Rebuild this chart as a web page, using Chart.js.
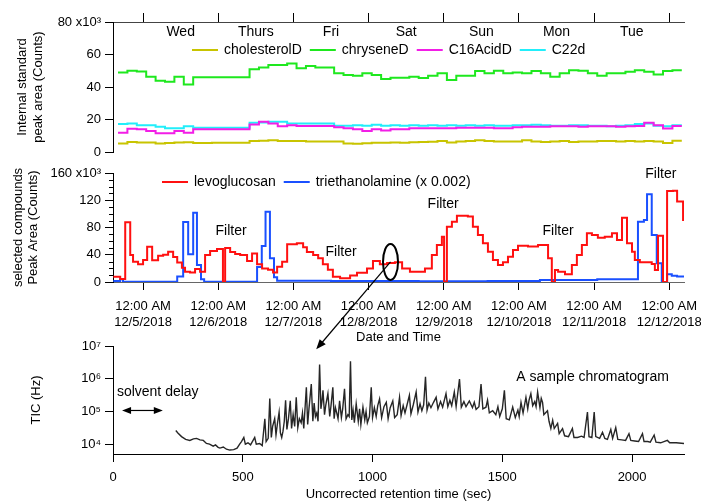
<!DOCTYPE html>
<html lang="en">
<head>
<meta charset="UTF-8">
<title>Internal standards, selected compounds and a sample chromatogram</title>
<script src="https://cdn.jsdelivr.net/npm/chart.js"></script>
<style>
  body { margin: 0; background: #fff; }
  #wrap { position: relative; width: 701px; height: 504px; overflow: hidden; }
  canvas { position: absolute; left: 0; }
  #top { top: 0; }
  #mid { top: 160px; }
  #tic { top: 330px; }
  #marks { top: 0; pointer-events: none; }
</style>
</head>
<body>
<div id="wrap">
  <canvas id="top" width="701" height="160"></canvas>
  <canvas id="mid" width="701" height="185"></canvas>
  <canvas id="tic" width="701" height="174"></canvas>
  <canvas id="marks" width="701" height="504"></canvas>
</div>
<script>
// time is in hours from 12:00 AM 12/5/2018, peak areas in thousands of counts
const timeRange = [-9.6, 172.7];
const dayHours = [0, 24, 48, 72, 96, 120, 144, 168];
const tickDates = ['12/5/2018', '12/6/2018', '12/7/2018', '12/8/2018', '12/9/2018', '12/10/2018', '12/11/2018', '12/12/2018'];
const dayNames = ['Wed', 'Thurs', 'Fri', 'Sat', 'Sun', 'Mon', 'Tue'];
const dayNoons = [12, 36, 60, 84, 108, 132, 156];

// internal standards (3 hour samples)
const stdHours = [-8, -5, -2, 1, 4, 7, 10, 13, 16, 19, 22, 25, 28, 31, 34, 37, 40, 43, 46, 49,
  52, 55, 58, 61, 64, 67, 70, 73, 76, 79, 82, 85, 88, 91, 94, 97, 100, 103, 106, 109,
  112, 115, 118, 121, 124, 127, 130, 133, 136, 139, 142, 145, 148, 151, 154, 157, 160, 163, 166, 169, 172];
const cholesterolD = [5.3, 6.2, 5.8, 5.8, 5.3, 5.5, 5.8, 6.0, 5.5, 5.6,
  5.7, 5.7, 5.7, 5.7, 6.8, 7.0, 7.3, 6.8, 6.8, 6.8,
  6.5, 6.5, 6.5, 6.5, 5.2, 5.1, 5.4, 5.7, 5.7, 5.9,
  5.7, 6.0, 6.2, 6.3, 6.8, 5.8, 6.5, 6.8, 7.2, 6.8,
  6.5, 6.5, 6.5, 7.2, 6.5, 6.2, 6.5, 6.8, 6.2, 6.5,
  6.5, 6.8, 6.8, 6.5, 6.8, 6.5, 6.8, 6.5, 5.6, 7.0, 7.0];
const chryseneD = [49, 50, 49.5, 46.3, 43.9, 43.3, 46.3, 41.5, 46, 46,
  46, 46, 46, 46, 51, 52, 53.5, 53.5, 54.5, 51.5,
  53, 52, 52, 48.4, 47.4, 47, 48.4, 47.4, 44.9, 45.7,
  45.7, 46.3, 45.5, 47, 48.4, 44.3, 47, 47, 49.8, 48.4,
  50, 48.4, 49, 48.4, 49.8, 48.4, 46.3, 48.4, 50.3, 50,
  48.4, 47, 48.4, 48.4, 49.4, 50.3, 49.4, 47.7, 49.8, 50.3, 50.3];
const c16AcidD = [11.9, 14.3, 14, 12.9, 11.5, 11.5, 12.9, 11.8, 14, 14,
  14, 14, 14, 14, 17, 18.6, 17.5, 15.8, 16.5, 16,
  16, 16, 16, 15.2, 14.6, 14, 12.9, 14, 13.3, 14,
  14, 14.6, 14.6, 14.6, 14.6, 14.6, 15, 15, 15, 15,
  14.6, 14.6, 15.2, 15.5, 15.5, 15.5, 15.8, 15.8, 15.8, 15.5,
  15.8, 15.8, 15.8, 15.5, 15.8, 16, 18, 16.5, 14.5, 16, 16];
const c22d = [17.2, 17.5, 16.5, 16.5, 15.5, 14.6, 14.6, 15.8, 15, 15,
  15, 15, 15, 15, 18, 18.2, 18.6, 18.6, 17.5, 17.5,
  17.5, 17.5, 17.5, 16.1, 16.1, 16.5, 16.1, 16.8, 16.1, 16.5,
  16.1, 16.5, 16.1, 16.5, 16.1, 16.5, 16.1, 16.5, 16.1, 16.5,
  16.1, 16.1, 16.5, 16.5, 16.8, 16.5, 16.1, 16.1, 16.5, 16.5,
  16.1, 16.1, 15.8, 16.1, 16.5, 17.2, 17.5, 16.1, 15.8, 16.5, 16.5];

// selected compounds (value holds from each time to the next one)
const levoHours = [-9.5, -7.3, -5.7, -4.1, -3.2, -1.6, 0, 1.3, 2.9, 4.8, 6.4, 8, 9.6, 10.9, 12.4, 13.4, 15, 16.6, 18.2, 19.8,
  21.4, 23.6, 25.5, 26.2, 27.8, 29.4, 31, 33.2, 34.8, 36.4, 38, 39.9, 41.5, 42.8, 44.4, 46, 49.1, 51.1, 52.3, 54.3,
  55.9, 57.4, 59, 60.6, 62.9, 66.1, 68.3, 71.5, 73.4, 75.6, 77.9, 80.4, 82.7, 85.2, 90, 92.2, 93.8, 95.4, 96.1, 97,
  98.6, 100.2, 103.7, 105.3, 106.9, 108.5, 110.1, 111.7, 113.3, 114.9, 116.5, 118.1, 119.7, 122.9, 126.1, 129.3, 130.5, 131.5, 132.5, 134.7,
  136.9, 138.5, 140.1, 141.7, 143.3, 145.2, 147.4, 149.7, 151.3, 152.9, 154.5, 156.1, 157, 158.6, 162.4, 163.4, 164.4, 166, 167.3, 169.2,
  170.5, 172.4, 173];
const levoglucosan = [7.8, 4.4, 87.7, 39.6, 29.8, 26, 32.3, 51.9, 32, 38.6, 40, 44.5, 36.7, 28.8, 21, 15.2, 14, 19, 15, 39.6,
  45.5, 48.4, 0, 50, 44, 41, 39.6, 30.8, 42, 26, 20, 18, 14, 22.5, 29.8, 55.3, 56.8, 51, 44, 39.6,
  34.7, 26, 18, 7.8, 5.4, 9.5, 13.7, 20, 30.8, 26, 28, 28.9, 20, 15.2, 20, 39.6, 54.3, 66.5, 0, 81.2,
  88.5, 97.4, 96, 81, 69, 56.8, 44.5, 32.3, 25, 28.9, 37, 47, 53.3, 52, 54.3, 34.7, 0, 17.6, 15, 11.3,
  25, 39.6, 54.3, 71.5, 69, 65, 66.5, 71.5, 61.7, 94.4, 56.8, 44.5, 32.3, 28.9, 26.5, 17.6, 68, 0, 133.6, 134,
  118, 91, 91];
const teaHours = [-9.5, -7.3, -6.4, 10.9, 12.8, 14.4, 16, 17.2, 18.5, 19.5, 36.4, 37.9, 39.1, 40.5, 41.8, 42.8,
  60, 88, 110, 126.7, 145, 155.4, 158, 159.9, 160.9, 162.4, 164, 165.6, 167.3, 168.8, 170.5, 172.7];
const triethanolamine = [1.5, 4, 0.5, 8, 88, 40.7, 101.8, 25, 4, 0.5, 22, 53, 103, 35, 7, 2,
  1.5, 1, 1.5, 3, 4, 4, 88.5, 91, 128.8, 69, 27.5, 0, 11.3, 9, 8, 7.5];

// sample chromatogram: retention time (sec) and TIC (Hz)
const ticSeconds = [
  242, 250, 264, 280, 296, 310, 322, 335, 348, 360, 372, 386, 395, 405, 412, 425, 437, 450, 465, 478,
  488, 495, 504, 510, 520, 530, 546, 552, 565, 575, 585, 590, 598,
  604, 610, 615, 623, 628, 634, 640, 645, 650, 655, 660, 665, 670, 676, 683, 688, 694, 700,
  706, 712, 718, 725, 730, 735, 745, 750, 755, 764, 770, 775, 780, 785, 790, 796, 801,
  805, 809, 815, 820, 828, 835, 840, 847, 852, 857, 862, 867, 873, 880, 885, 892, 898,
  905, 910, 915, 920, 925, 930, 937, 945, 950, 955, 963, 970, 975, 980, 988, 995, 1000,
  1007, 1014, 1020, 1027, 1035, 1044, 1053, 1060, 1068, 1078, 1085, 1095, 1104, 1110,
  1118, 1125, 1133, 1142, 1148, 1157, 1168, 1175, 1183, 1190, 1197, 1204, 1210, 1217, 1225,
  1235, 1245, 1252, 1262, 1270, 1283, 1290, 1298, 1305, 1315, 1322, 1335, 1342,
  1352, 1360, 1373, 1385, 1392, 1399, 1410, 1418, 1425, 1437, 1443, 1450, 1463,
  1475, 1483, 1490, 1500, 1508, 1515, 1527, 1540, 1550, 1560, 1565, 1572, 1580,
  1591, 1598, 1603, 1610, 1617, 1625, 1630, 1636, 1645, 1650, 1655, 1660, 1666, 1674, 1680, 1687,
  1694, 1700, 1713, 1719, 1732, 1740, 1755, 1770, 1776, 1790, 1805, 1815, 1828, 1834, 1845, 1854, 1860, 1875, 1886, 1895,
  1905, 1918, 1925, 1937, 1945, 1960, 1975, 1988, 1995, 2010, 2025, 2040, 2046, 2060, 2070, 2085, 2092, 2110, 2136, 2145, 2170, 2200];
const ticHz = [
  2.6e4, 2.2e4, 1.7e4, 1.4e4, 1.3e4, 1.45e4, 1.5e4, 1.35e4, 1.3e4, 1.05e4, 1.0e4, 8.7e3, 9.5e3, 8.0e3, 7.6e3, 8.2e3, 7.0e3, 6.6e3, 6.8e3, 7.5e3,
  1.0e4, 1.2e4, 1.6e4, 1.0e4, 1.1e4, 9.5e3, 1.6e4, 1.0e4, 1.05e4, 9.0e3, 6.0e4, 1.2e4, 1.5e4,
  2.5e5, 1.6e4, 3.5e4, 6.0e4, 1.9e4, 4.5e4, 9.5e4, 2.2e4, 1.6e4, 2.5e4, 5.0e4, 2.2e5, 2.8e4, 6.0e4, 2.1e5, 3.0e4, 8.0e4, 3.5e4,
  2.7e5, 3.2e4, 6.0e4, 4.5e4, 9.0e4, 3.0e4, 5.5e5, 4.0e4, 1.2e5, 6.9e5, 5.0e4, 1.8e5, 7.0e4, 9.0e4, 5.0e4, 2.7e6, 1.2e5,
  2.0e5, 4.4e5, 8.0e4, 1.6e5, 3.5e5, 7.0e4, 1.5e5, 5.5e5, 6.0e4, 1.3e5, 9.0e4, 6.0e4, 2.1e5, 6.5e4, 1.2e5, 4.9e5, 6.0e4,
  8.0e4, 7.0e4, 3.4e6, 5.5e4, 1.1e5, 4.5e4, 1.7e5, 5.0e4, 1.2e5, 4.0e4, 1.35e5, 5.5e4, 1.0e5, 4.5e4, 7.0e4, 5.5e5, 6.5e4,
  1.3e5, 7.0e4, 1.5e5, 2.4e5, 6.5e4, 1.4e5, 1.9e5, 6.0e4, 1.3e5, 2.1e5, 6.5e4, 8.0e4, 2.7e5, 7.5e4,
  1.5e5, 9.0e4, 1.6e5, 3.1e5, 8.5e4, 1.6e5, 3.9e5, 9.5e4, 1.7e5, 1.05e5, 1.6e5, 1.15e6, 1.1e5, 1.8e5, 1.3e5,
  1.9e5, 2.7e5, 1.2e5, 2.0e5, 1.35e5, 3.5e5, 1.4e5, 2.2e5, 1.5e5, 3.9e5, 1.4e5, 9.8e5, 1.35e5,
  2.0e5, 1.4e5, 2.1e5, 1.3e5, 1.9e5, 1.15e5, 1.4e5, 6.9e5, 1.2e5, 1.35e5, 2.2e5, 9.0e4, 1.05e5,
  8.0e4, 1.4e5, 7.0e4, 1.2e5, 4.4e5, 6.0e4, 5.5e4, 1.35e5, 6.5e4, 1.1e5, 7.0e4, 1.9e5, 9.0e4,
  2.7e5, 1.2e5, 2.2e5, 3.5e5, 1.5e5, 2.0e5, 1.4e5, 3.9e5, 1.3e5, 2.5e5, 1.9e5, 8.0e4, 9.0e4, 1.05e5, 5.0e4, 3.0e4,
  5.4e4, 3.0e4, 4.3e4, 2.1e4, 3.0e4, 1.8e4, 1.7e4, 3.0e4, 1.6e4, 1.6e4, 1.75e4, 1.6e4, 9.5e4, 1.7e4, 1.6e4, 9.5e4, 1.7e4, 1.5e4, 2.3e4, 1.5e4,
  1.4e4, 2.8e4, 1.5e4, 3.2e4, 1.4e4, 1.35e4, 1.3e4, 2.1e4, 1.3e4, 1.25e4, 1.2e4, 2.1e4, 1.2e4, 1.2e4, 1.15e4, 1.9e4, 1.15e4, 1.1e4, 1.3e4, 1.1e4, 1.1e4, 1.05e4];
const ticDecades = [1e4, 1e5, 1e6, 1e7];
const ticDecadeLabels = ['10\u2074', '10\u2075', '10\u2076', '10\u2077'];
const secTicks = [0, 500, 1000, 1500, 2000];

Chart.defaults.font.family = "'Liberation Sans', Arial, sans-serif";
Chart.defaults.font.size = 13;
Chart.defaults.color = '#000';
const FAM = Chart.defaults.font.family;

const pairs = (xs, ys) => xs.map((x, i) => ({ x: x, y: ys[i] }));

// axis boxes get a fixed size so the three panels line up
function fixedAxis(size) {
  return s => {
    if (s.isHorizontal()) s.height = size; else s.width = size;
    s.paddingLeft = s.paddingRight = s.paddingTop = s.paddingBottom = 0;
  };
}
const tickMarks = len => ({ drawOnChartArea: false, drawTicks: true, tickLength: len, tickColor: '#000', color: '#000' });

// texts, line legend, minor ticks, ellipse and the double arrow
const panelNotes = {
  id: 'panelNotes',
  afterDatasetsDraw(chart, args, opts) {
    const ctx = chart.ctx, xs = chart.scales.x, ys = chart.scales.y, area = chart.chartArea;
    ctx.save();
    ctx.fillStyle = '#000';
    ctx.strokeStyle = '#000';
    ctx.font = '14px ' + FAM;
    ctx.textBaseline = 'middle';
    (opts.texts || []).forEach(t => {
      ctx.textAlign = t.align || 'center';
      ctx.fillText(t.text, xs.getPixelForValue(t.x), ys.getPixelForValue(t.y));
    });
    if (opts.key) {
      let x = area.left + opts.key.dx;
      const y = area.top + opts.key.dy;
      chart.data.datasets.forEach(ds => {
        ctx.strokeStyle = ds.borderColor;
        ctx.lineWidth = 2;
        ctx.beginPath(); ctx.moveTo(x, y); ctx.lineTo(x + 26, y); ctx.stroke();
        ctx.textAlign = 'left';
        ctx.fillText(ds.label, x + 32, y);
        x += 32 + ctx.measureText(ds.label).width + 8;
      });
    }
    if (opts.minorStep) {
      ctx.strokeStyle = '#000';
      ctx.lineWidth = 1;
      for (let v = ys.min; v <= ys.max; v += opts.minorStep) {
        if (v % opts.majorStep === 0) continue;
        const py = Math.round(ys.getPixelForValue(v)) + 0.5;
        ctx.beginPath(); ctx.moveTo(area.left - 4, py); ctx.lineTo(area.left, py); ctx.stroke();
      }
    }
    if (opts.ellipse) {
      const e = opts.ellipse;
      const cx = xs.getPixelForValue(e.x), cy = ys.getPixelForValue(e.y);
      const rx = Math.abs(xs.getPixelForValue(e.x + e.rx) - cx);
      const ry = Math.abs(ys.getPixelForValue(e.y + e.ry) - cy);
      ctx.strokeStyle = '#000';
      ctx.lineWidth = 2;
      ctx.beginPath(); ctx.ellipse(cx, cy, rx, ry, 0, 0, Math.PI * 2); ctx.stroke();
    }
    if (opts.span) {
      const a = xs.getPixelForValue(opts.span.from), b = xs.getPixelForValue(opts.span.to);
      const y = ys.getPixelForValue(opts.span.y);
      ctx.strokeStyle = '#000';
      ctx.lineWidth = 1.2;
      ctx.beginPath(); ctx.moveTo(a + 6, y); ctx.lineTo(b - 6, y); ctx.stroke();
      [[a, 1], [b, -1]].forEach(([px, d]) => {
        ctx.beginPath(); ctx.moveTo(px, y); ctx.lineTo(px + 9 * d, y - 3.5); ctx.lineTo(px + 9 * d, y + 3.5); ctx.closePath(); ctx.fill();
      });
    }
    ctx.restore();
  }
};

const baseOptions = pad => ({
  responsive: false,
  animation: false,
  events: [],
  layout: { padding: pad },
  elements: { point: { radius: 0 } },
  plugins: { legend: { display: false }, tooltip: { enabled: false } }
});

// top panel: internal standards
const topOpts = baseOptions({ left: 0, right: 17, top: 0, bottom: 8 });
topOpts.plugins.panelNotes = {
  texts: dayNames.map((d, i) => ({ text: d, x: dayNoons[i], y: 74 })),
  key: { dx: 79, dy: 28 }
};
topOpts.scales = {
  x: {
    type: 'linear', position: 'top', min: timeRange[0], max: timeRange[1],
    afterBuildTicks: s => { s.ticks = dayHours.map(v => ({ value: v })); },
    ticks: { display: false },
    grid: tickMarks(9),
    border: { color: '#444' },
    afterFit: fixedAxis(22)
  },
  y: {
    min: 0, max: 80,
    ticks: { stepSize: 20, padding: 4, callback: v => v === 80 ? '80 x10\u00b3' : v },
    grid: tickMarks(8),
    border: { color: '#000' },
    title: { display: true, text: ['Internal standard', 'peak area (Counts)'], font: { size: 13, lineHeight: 1.25 }, padding: { top: 14 } },
    afterFit: fixedAxis(113)
  }
};
const stdLine = (label, values, color) => ({ label: label, data: pairs(stdHours, values), borderColor: color, borderWidth: 2, stepped: 'before' });
new Chart(document.getElementById('top'), {
  type: 'line',
  data: { datasets: [
    stdLine('cholesterolD', cholesterolD, '#c8c400'),
    stdLine('chryseneD', chryseneD, '#1ee81e'),
    stdLine('C16AcidD', c16AcidD, '#f21ee6'),
    stdLine('C22d', c22d, '#22eefa')
  ] },
  options: topOpts,
  plugins: [panelNotes]
});

// middle panel: levoglucosan and triethanolamine
const midOpts = baseOptions({ left: 0, right: 17, top: 13, bottom: 0 });
midOpts.plugins.panelNotes = {
  texts: [
    { text: 'Filter', x: 28.1, y: 74 },
    { text: 'Filter', x: 63.2, y: 43.6 },
    { text: 'Filter', x: 95.8, y: 114.5 },
    { text: 'Filter', x: 132.5, y: 75 },
    { text: 'Filter', x: 165.3, y: 158 }
  ],
  key: { dx: 49, dy: 9 },
  minorStep: 10, majorStep: 40,
  ellipse: { x: 79, y: 29.4, rx: 2.4, ry: 26.4 }
};
midOpts.scales = {
  x: {
    type: 'linear', min: timeRange[0], max: timeRange[1],
    afterBuildTicks: s => { s.ticks = dayHours.map(v => ({ value: v })); },
    ticks: { padding: 8, maxRotation: 0, autoSkip: false, font: { size: 13, lineHeight: 1.23 },
      callback: (v, i) => ['12:00 AM', tickDates[i]] },
    grid: tickMarks(8),
    border: { color: '#666' },
    title: { display: true, text: 'Date and Time', font: { size: 13 }, padding: { top: 0, bottom: 0 } },
    afterFit: fixedAxis(63)
  },
  y: {
    min: 0, max: 160,
    ticks: { stepSize: 40, padding: 4, callback: v => v === 160 ? '160 x10\u00b3' : v },
    grid: tickMarks(8),
    border: { color: '#000' },
    title: { display: true, text: ['selected compounds', 'Peak Area (Counts)'], font: { size: 13, lineHeight: 1.15 }, padding: { top: 11 } },
    afterFit: fixedAxis(113)
  }
};
const midChart = new Chart(document.getElementById('mid'), {
  type: 'line',
  data: { datasets: [
    { label: 'levoglucosan', data: pairs(levoHours, levoglucosan), borderColor: '#ff1010', borderWidth: 2, stepped: 'before' },
    { label: 'triethanolamine (x 0.002)', data: pairs(teaHours, triethanolamine), borderColor: '#1a50ff', borderWidth: 2, stepped: 'before' }
  ] },
  options: midOpts,
  plugins: [panelNotes]
});

// bottom panel: sample chromatogram
const ticOpts = baseOptions({ left: 0, right: 17, top: 16, bottom: 0 });
ticOpts.plugins.panelNotes = {
  texts: [
    { text: 'solvent delay', x: 15, y: 4.0e5, align: 'left' },
    { text: 'A sample chromatogram', x: 1554, y: 1.1e6, align: 'left' }
  ],
  span: { from: 35, to: 192, y: 1.07e5 }
};
ticOpts.scales = {
  x: {
    type: 'linear', min: 0, max: 2200,
    afterBuildTicks: s => { s.ticks = secTicks.map(v => ({ value: v })); },
    ticks: { padding: 8, maxRotation: 0, callback: v => String(v) },
    grid: tickMarks(8),
    border: { color: '#000' },
    title: { display: true, text: 'Uncorrected retention time (sec)', font: { size: 13 }, padding: { top: 0, bottom: 2 } },
    afterFit: fixedAxis(50)
  },
  y: {
    type: 'logarithmic', min: 5000, max: 1e7,
    afterBuildTicks: s => { s.ticks = ticDecades.map(v => ({ value: v })); },
    ticks: { padding: 4, callback: (v, i) => ticDecadeLabels[i] },
    grid: tickMarks(8),
    border: { color: '#000' },
    title: { display: true, text: 'TIC (Hz)', font: { size: 13, lineHeight: 1.2 }, padding: { top: 29 } },
    afterFit: fixedAxis(113)
  }
};
const ticChart = new Chart(document.getElementById('tic'), {
  type: 'line',
  data: { datasets: [
    { label: 'TIC', data: pairs(ticSeconds, ticHz), borderColor: '#262626', borderWidth: 1.4 }
  ] },
  options: ticOpts,
  plugins: [panelNotes]
});

// pointer from the circled sample to the chromatogram, across panels
const pointerStart = [79, 29.4];     // hours, thousand counts
const pointerEnd = [783, 7.9e6];     // sec, Hz
const marks = document.getElementById('marks').getContext('2d');
const midTop = document.getElementById('mid').offsetTop;
const ticTop = document.getElementById('tic').offsetTop;
const x0 = midChart.scales.x.getPixelForValue(pointerStart[0]);
const y0 = midChart.scales.y.getPixelForValue(pointerStart[1]) + midTop;
const x1 = ticChart.scales.x.getPixelForValue(pointerEnd[0]);
const y1 = ticChart.scales.y.getPixelForValue(pointerEnd[1]) + ticTop;
const ang = Math.atan2(y1 - y0, x1 - x0);
marks.strokeStyle = '#000';
marks.fillStyle = '#000';
marks.lineWidth = 1.2;
marks.beginPath(); marks.moveTo(x0, y0); marks.lineTo(x1 - 8 * Math.cos(ang), y1 - 8 * Math.sin(ang)); marks.stroke();
marks.beginPath();
marks.moveTo(x1, y1);
marks.lineTo(x1 - 10 * Math.cos(ang) + 4 * Math.sin(ang), y1 - 10 * Math.sin(ang) - 4 * Math.cos(ang));
marks.lineTo(x1 - 10 * Math.cos(ang) - 4 * Math.sin(ang), y1 - 10 * Math.sin(ang) + 4 * Math.cos(ang));
marks.closePath();
marks.fill();
</script>
</body>
</html>
